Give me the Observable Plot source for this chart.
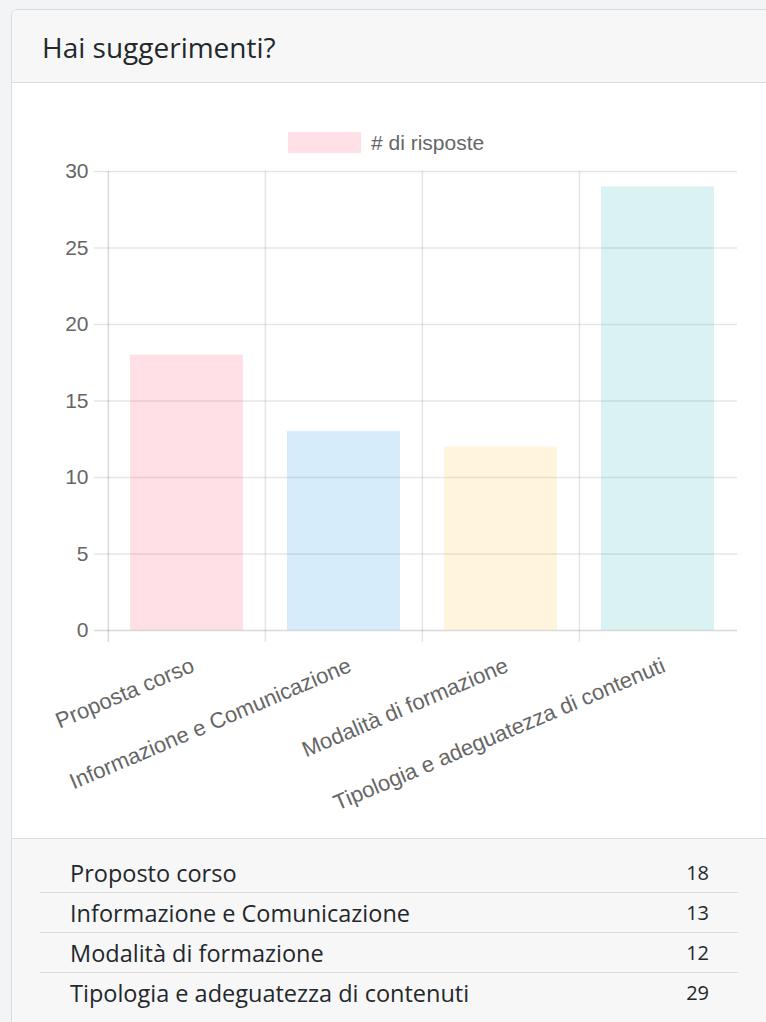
<!DOCTYPE html>
<html>
<head>
<meta charset="utf-8">
<script src="https://cdn.jsdelivr.net/npm/d3@7"></script>
<script src="https://cdn.jsdelivr.net/npm/@observablehq/plot@0.6"></script>
<style>
  html, body { margin: 0; padding: 0; }
  body { width: 766px; height: 1022px; overflow: hidden; position: relative; background: #f3f4f6; }
  #card { position: absolute; left: 11px; top: 9px; width: 800px; height: 1100px; background: #fff; border: 1px solid #dadce0; border-radius: 6px; }
  #header { position: absolute; left: 12px; top: 10px; width: 790px; height: 72px; background: #f7f7f7; border-bottom: 1px solid #dcdde0; border-top-left-radius: 5px; }
  #title { position: absolute; left: 30px; top: 23px; font-family: "Open Sans", sans-serif; font-size: 28px; line-height: 1; color: #23282c; white-space: nowrap; }
  #chart { position: absolute; left: 12px; top: 83px; }
  #legend { position: absolute; left: 288px; top: 132px; height: 21px; display: flex; align-items: center; font-family: "Liberation Sans", Arial, sans-serif; font-size: 21px; color: #666; }
  #legend .sw { width: 73px; height: 21px; margin-right: 10px; }
  #footer { position: absolute; left: 12px; top: 838px; width: 790px; height: 200px; background: #f7f7f7; border-top: 1px solid #dcdde0; }
  #list { position: absolute; left: 40px; top: 853px; width: 698px; }
  .row { height: 40px; line-height: 40px; display: flex; justify-content: space-between; border-bottom: 1.5px solid #dcdcdc; box-sizing: border-box; padding-left: 30px; padding-right: 29px; }
  .row:last-child { border-bottom: none; }
  .row .lab { font-family: "Open Sans", sans-serif; font-size: 23.5px; color: #23282c; }
  .row .val { font-family: "Open Sans", sans-serif; font-size: 20px; color: #23282c; }
</style>
</head>
<body>
<div id="card"></div>
<div id="header"><div id="title"></div></div>
<div id="footer"></div>
<div id="chart"></div>
<div id="legend"><div class="sw"></div><span></span></div>
<div id="list"></div>
<script>
const title = "Hai suggerimenti?";
const seriesName = "# di risposte";
const categories = ["Proposta corso", "Informazione e Comunicazione", "Modalità di formazione", "Tipologia e adeguatezza di contenuti"];
const values = [18, 13, 12, 29];
const colors = ["rgb(255,99,132)", "rgb(54,162,235)", "rgb(255,206,86)", "rgb(75,192,192)"];
const yTicks = [0, 5, 10, 15, 20, 25, 30];
const listLabels = ["Proposto corso", "Informazione e Comunicazione", "Modalità di formazione", "Tipologia e adeguatezza di contenuti"];
const listValues = [18, 13, 12, 29];

document.getElementById("title").textContent = title;
const leg = document.getElementById("legend");
leg.querySelector("span").textContent = seriesName;
leg.querySelector(".sw").style.background = d3.color(colors[0]).copy({opacity: 0.2}).toString();

const data = categories.map((c, i) => ({category: c, value: values[i], color: colors[i]}));

const width = 754, height = 755;
const marginLeft = 96, marginRight = 29, marginTop = 88, marginBottom = 208;
const step = (width - marginLeft - marginRight) / categories.length;
const grid = "rgba(0,0,0,0.1)";

const chart = Plot.plot({
  width, height, marginLeft, marginRight, marginTop, marginBottom,
  style: {fontFamily: "'Liberation Sans', Arial, sans-serif", fontSize: "21px", color: "#666", background: "transparent", overflow: "visible"},
  x: {type: "band", domain: categories, paddingInner: 0.28, paddingOuter: 0.14, axis: null},
  y: {domain: [0, 30], nice: false, axis: null},
  marks: [
    Plot.ruleY(yTicks.slice(1), {y: d => d, stroke: grid, strokeWidth: 1.5, insetLeft: -14}),
    Plot.ruleX(categories.slice(1), {x: d => d, dx: -step / 2, stroke: grid, strokeWidth: 1.5, insetBottom: -12}),
    Plot.ruleX(categories.slice(0, 1), {x: d => d, dx: -step / 2, stroke: "rgba(0,0,0,0.15)", strokeWidth: 1.5, insetBottom: -12}),
    Plot.ruleY([0], {stroke: "rgba(0,0,0,0.15)", strokeWidth: 1.5, insetLeft: -14}),
    Plot.barY(data, {x: "category", y: "value", fill: "color", fillOpacity: 0.2}),
    Plot.axisY(yTicks, {tickSize: 0, tickPadding: 20, fill: "#666", fontSize: 21, label: null}),
    Plot.text(categories, {x: d => d, frameAnchor: "bottom", rotate: -23, textAnchor: "end", lineAnchor: "middle", dx: 6, dy: 34, fill: "#666", fontSize: 22})
  ]
});
document.getElementById("chart").appendChild(chart);

const list = document.getElementById("list");
listLabels.forEach((l, i) => {
  const row = document.createElement("div");
  row.className = "row";
  const a = document.createElement("span"); a.className = "lab"; a.textContent = l;
  const b = document.createElement("span"); b.className = "val"; b.textContent = listValues[i];
  row.appendChild(a); row.appendChild(b);
  list.appendChild(row);
});
</script>
</body>
</html>
